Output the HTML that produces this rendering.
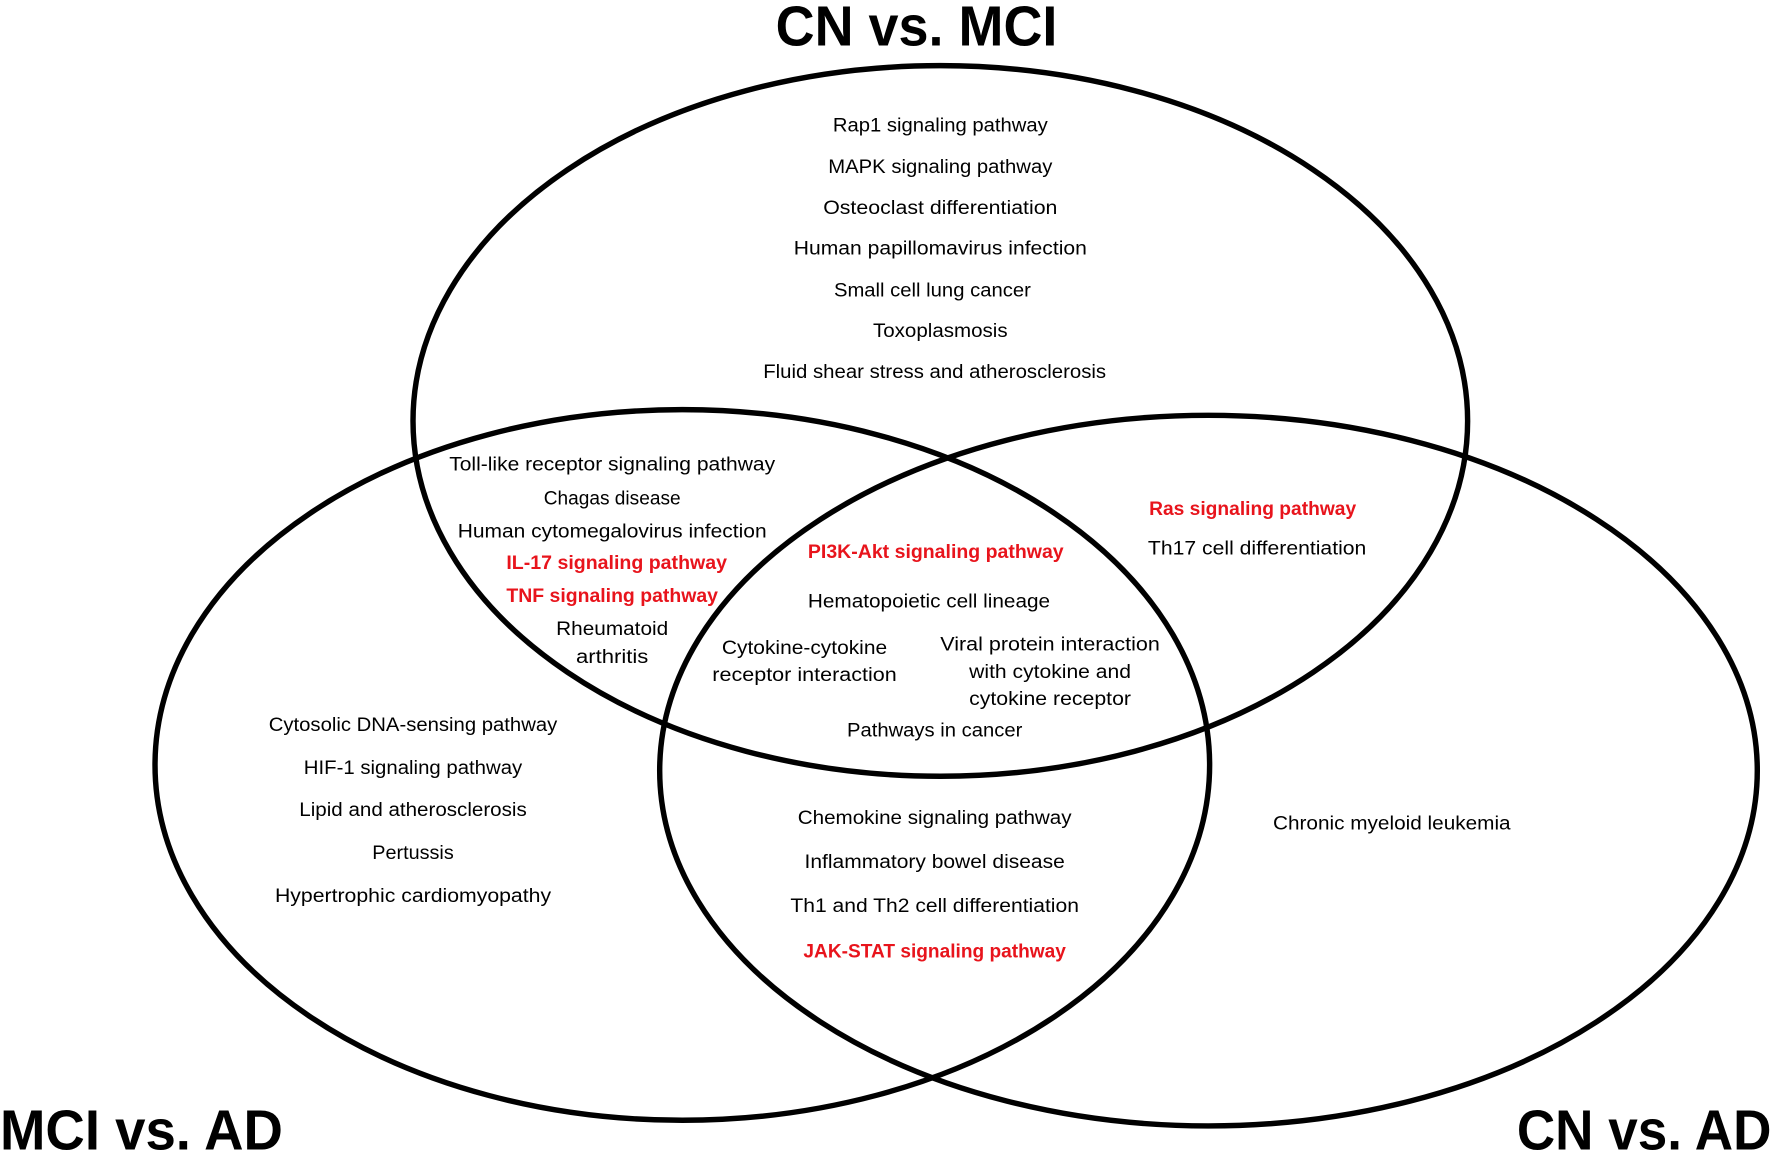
<!DOCTYPE html>
<html><head><meta charset="utf-8"><style>
html,body{margin:0;padding:0;background:#fff;}
svg{display:block;}
text{font-family:"Liberation Sans",sans-serif;font-size:17.5px;fill:#000;}
.r{fill:#e8141c;font-weight:bold;}
.t{font-weight:bold;font-size:50px;}
</style></head><body>
<svg width="1772" height="1155" viewBox="0 0 1566 1020.7" preserveAspectRatio="none">
<g fill="none" stroke="#000" stroke-width="4.8">
<ellipse cx="831" cy="372" rx="466" ry="314"/>
<ellipse cx="603" cy="676" rx="466" ry="314"/>
<ellipse cx="1068" cy="681" rx="485" ry="314"/>
</g>
<g text-anchor="middle" lengthAdjust="spacingAndGlyphs">
<text class="t" x="810" y="40" textLength="249" lengthAdjust="spacingAndGlyphs">CN vs. MCI</text>
<text class="t" x="125" y="1016" textLength="250" lengthAdjust="spacingAndGlyphs">MCI vs. AD</text>
<text class="t" x="1453" y="1016" textLength="225" lengthAdjust="spacingAndGlyphs">CN vs. AD</text>

<text x="831" y="116" textLength="190" lengthAdjust="spacingAndGlyphs">Rap1 signaling pathway</text>
<text x="831" y="153" textLength="198" lengthAdjust="spacingAndGlyphs">MAPK signaling pathway</text>
<text x="831" y="189" textLength="207" lengthAdjust="spacingAndGlyphs">Osteoclast differentiation</text>
<text x="831" y="225" textLength="259" lengthAdjust="spacingAndGlyphs">Human papillomavirus infection</text>
<text x="824" y="262" textLength="174" lengthAdjust="spacingAndGlyphs">Small cell lung cancer</text>
<text x="831" y="298" textLength="119" lengthAdjust="spacingAndGlyphs">Toxoplasmosis</text>
<text x="826" y="334" textLength="303" lengthAdjust="spacingAndGlyphs">Fluid shear stress and atherosclerosis</text>

<text x="541" y="416" textLength="288" lengthAdjust="spacingAndGlyphs">Toll-like receptor signaling pathway</text>
<text x="541" y="446" textLength="121" lengthAdjust="spacingAndGlyphs">Chagas disease</text>
<text x="541" y="475" textLength="273" lengthAdjust="spacingAndGlyphs">Human cytomegalovirus infection</text>
<text class="r" x="545" y="503" textLength="195" lengthAdjust="spacingAndGlyphs">IL-17 signaling pathway</text>
<text class="r" x="541" y="532" textLength="187" lengthAdjust="spacingAndGlyphs">TNF signaling pathway</text>
<text x="541" y="561" textLength="99" lengthAdjust="spacingAndGlyphs">Rheumatoid</text>
<text x="541" y="586" textLength="64" lengthAdjust="spacingAndGlyphs">arthritis</text>

<text class="r" x="827" y="493" textLength="226" lengthAdjust="spacingAndGlyphs">PI3K-Akt signaling pathway</text>
<text x="821" y="537" textLength="214" lengthAdjust="spacingAndGlyphs">Hematopoietic cell lineage</text>
<text x="711" y="578" textLength="146" lengthAdjust="spacingAndGlyphs">Cytokine-cytokine</text>
<text x="711" y="602" textLength="163" lengthAdjust="spacingAndGlyphs">receptor interaction</text>
<text x="928" y="575" textLength="194" lengthAdjust="spacingAndGlyphs">Viral protein interaction</text>
<text x="928" y="599" textLength="143" lengthAdjust="spacingAndGlyphs">with cytokine and</text>
<text x="928" y="623" textLength="143" lengthAdjust="spacingAndGlyphs">cytokine receptor</text>
<text x="826" y="651" textLength="155" lengthAdjust="spacingAndGlyphs">Pathways in cancer</text>

<text class="r" x="1107" y="455" textLength="183" lengthAdjust="spacingAndGlyphs">Ras signaling pathway</text>
<text x="1111" y="490" textLength="193" lengthAdjust="spacingAndGlyphs">Th17 cell differentiation</text>

<text x="365" y="646" textLength="255" lengthAdjust="spacingAndGlyphs">Cytosolic DNA-sensing pathway</text>
<text x="365" y="684" textLength="193" lengthAdjust="spacingAndGlyphs">HIF-1 signaling pathway</text>
<text x="365" y="721" textLength="201" lengthAdjust="spacingAndGlyphs">Lipid and atherosclerosis</text>
<text x="365" y="759" textLength="72" lengthAdjust="spacingAndGlyphs">Pertussis</text>
<text x="365" y="797" textLength="244" lengthAdjust="spacingAndGlyphs">Hypertrophic cardiomyopathy</text>

<text x="826" y="728" textLength="242" lengthAdjust="spacingAndGlyphs">Chemokine signaling pathway</text>
<text x="826" y="767" textLength="230" lengthAdjust="spacingAndGlyphs">Inflammatory bowel disease</text>
<text x="826" y="806" textLength="255" lengthAdjust="spacingAndGlyphs">Th1 and Th2 cell differentiation</text>
<text class="r" x="826" y="846" textLength="232" lengthAdjust="spacingAndGlyphs">JAK-STAT signaling pathway</text>

<text x="1230" y="733" textLength="210" lengthAdjust="spacingAndGlyphs">Chronic myeloid leukemia</text>
</g>
</svg>
</body></html>
